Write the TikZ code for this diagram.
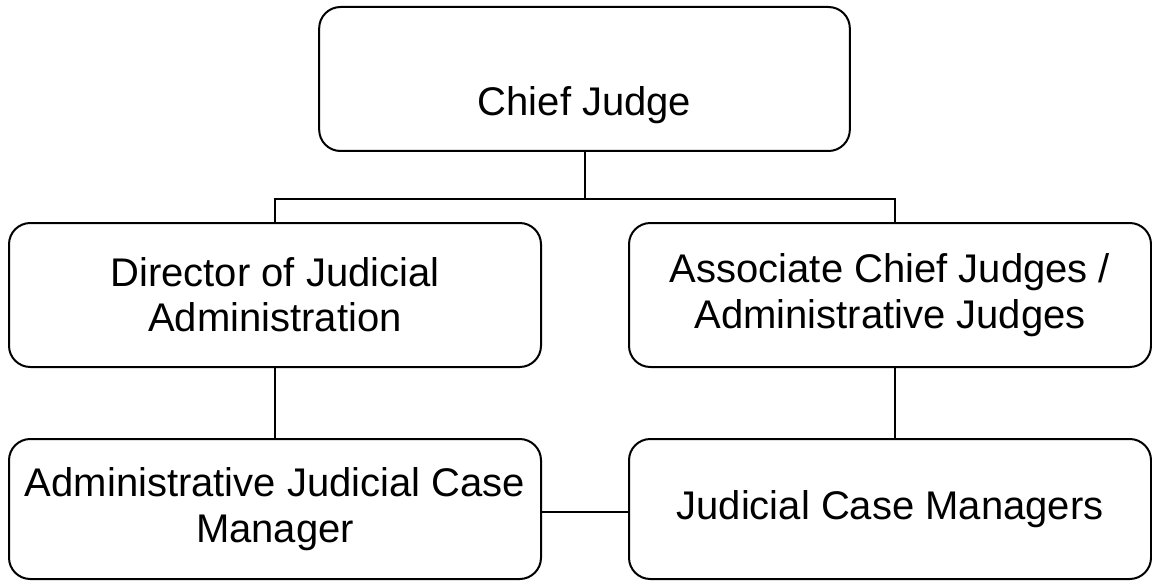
\documentclass[tikz,border=0pt]{standalone}
\usepackage{fontspec}
\setmainfont{Liberation Sans}
\usepackage{tikz}
\usetikzlibrary{positioning}

\tikzset{
  box/.style={draw, line width=1.5pt, rounded corners=16pt, align=center,
              font=\fontsize{30pt}{34pt}\selectfont, inner sep=0pt},
  link/.style={line width=1.5pt},
  thinlink/.style={line width=1pt}
}

\begin{document}
\begin{tikzpicture}[x=0.75pt, y=-0.75pt]
      \useasboundingbox (0,0) rectangle (1152,581);

      % --- Knoten ---
      \node[box, minimum width=398pt, minimum height=108pt,
            text height=55.5pt, text depth=0pt] (chief) at (584.5,79)
            {Chief Judge};
      \node[box, minimum width=399pt, minimum height=108pt] (director) at (275,295)
            {Director of Judicial\\Administration};
      \node[box, minimum width=391.5pt, minimum height=108pt] (associate) at (890,295)
            {Associate Chief Judges /\\Administrative Judges};
      \node[box, minimum width=399pt, minimum height=105pt] (adminjcm) at (275,509)
            {Administrative Judicial Case\\Manager};
      \node[box, minimum width=391.5pt, minimum height=105pt] (jcm) at (890,509)
            {Judicial Case Managers};

      % Hilfspunkte
      \coordinate (bus) at (584.5,199);
      \coordinate (rdrop) at (895,199);

      % Verbindungen
      \draw[link] (chief.south) -- (bus);
      \draw[link] (bus) -| (director.north);
      \draw[link] (bus) -- (rdrop) -- (rdrop |- associate.north);
      \draw[link] (director.south) -- (adminjcm.north);
      \draw[link] (associate.south -| rdrop) -- (jcm.north -| rdrop);
      \draw[thinlink] (adminjcm.east |- 0,512) -- (jcm.west |- 0,512);
    \end{tikzpicture}
\end{document}
